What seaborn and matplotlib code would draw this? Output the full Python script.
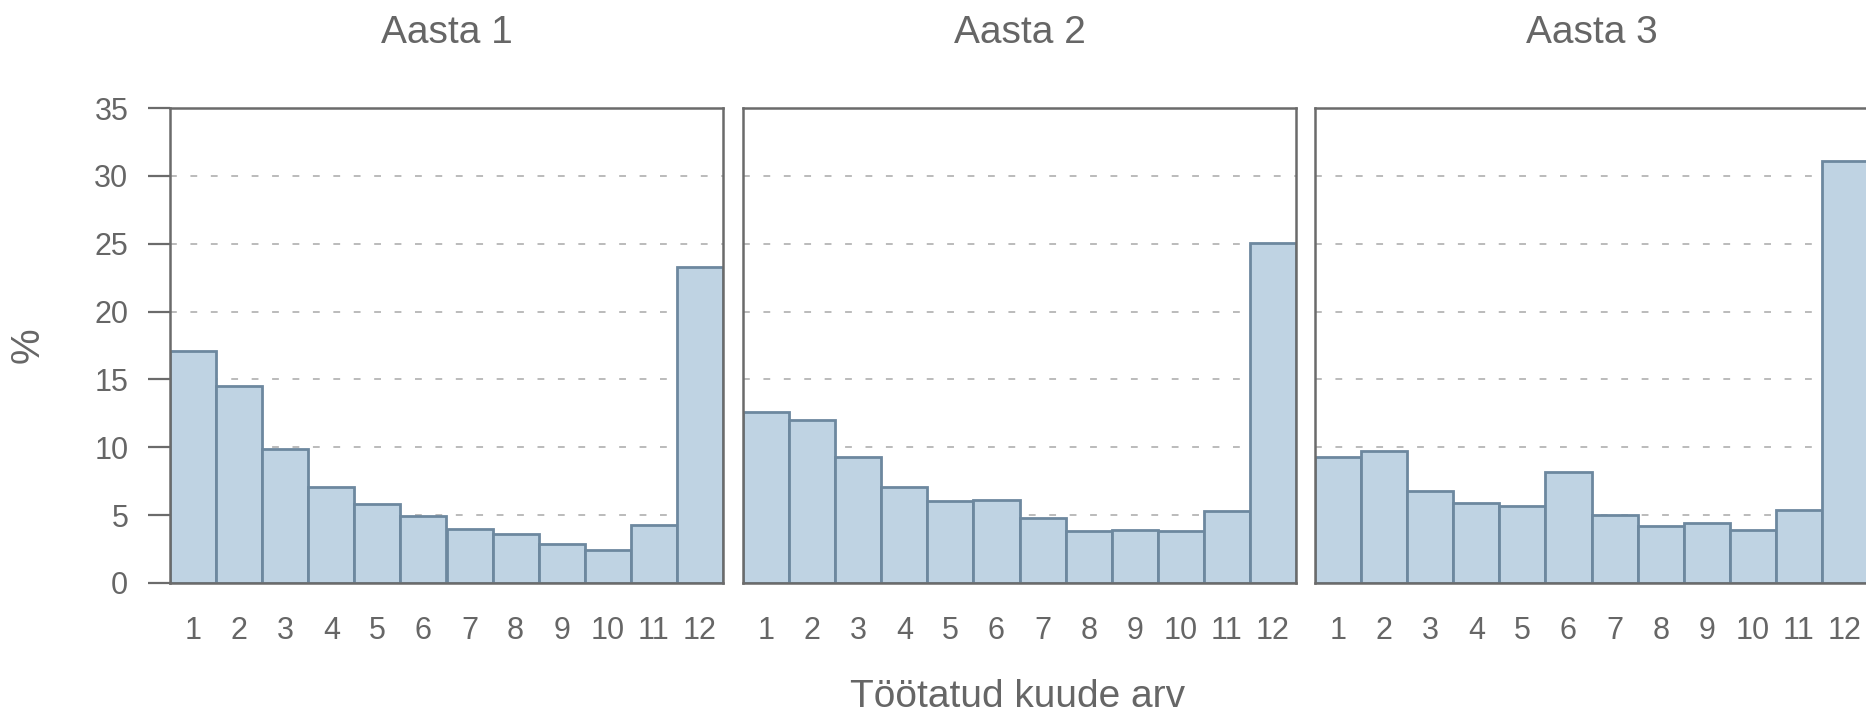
import numpy as np
import pandas as pd
import seaborn as sns
import matplotlib.pyplot as plt

# Andmed - osakaal (%) töötatud kuude arvu järgi
kuud = [str(k) for k in range(1, 13)]
aastad = ["Aasta 1", "Aasta 2", "Aasta 3"]
aasta1 = [17.1, 14.5, 9.85, 7.1, 5.85, 4.95, 3.95, 3.6, 2.9, 2.45, 4.25, 23.25]
aasta2 = [12.6, 12.0, 9.3, 7.05, 6.05, 6.1, 4.8, 3.85, 3.9, 3.85, 5.3, 25.05]
aasta3 = [9.25, 9.75, 6.8, 5.9, 5.65, 8.2, 5.0, 4.2, 4.45, 3.9, 5.4, 31.1]

andmed = pd.DataFrame({
    "Kuud": kuud * 3,
    "Osakaal": aasta1 + aasta2 + aasta3,
    "Aasta": np.repeat(aastad, 12),
})

sns.set_style("ticks")
plt.rcParams['font.family'] = ['Liberation Sans', 'DejaVu Sans']
tekst = '#666666'
joon = '#6b6b6b'

W, H = 1866, 712
fig, axes = plt.subplots(1, 3, figsize=(W / 100, H / 100), dpi=100, sharey=True)

vasak = [170, 743, 1315]
for i, (ax, aasta) in enumerate(zip(axes, aastad)):
    ax.set_position([vasak[i] / W, (H - 583) / H, 553 / W, 475 / H])
    osa = andmed[andmed['Aasta'] == aasta]
    sns.barplot(data=osa, x="Kuud", y="Osakaal", ax=ax, width=1, color='#bfd3e3',
                edgecolor='#6d889f', linewidth=2, saturation=1)
    ax.set_xlim(-0.5, 11.5)
    ax.set_ylim(0, 35)
    ax.set_yticks(range(0, 36, 5))
    ax.set_axisbelow(True)
    ax.yaxis.grid(True, linestyle=(0, (3.5, 7)), color='#bbbbbb', linewidth=1.4)
    for s in ax.spines.values():
        s.set_visible(True)
        s.set_color(joon)
        s.set_linewidth(1.8)
    ax.set_xlabel('')
    ax.set_ylabel('')
    ax.set_title(aasta, fontsize=28, color=tekst, pad=47)
    ax.tick_params(axis='x', length=0, pad=24, labelsize=22, labelcolor=tekst)
    if i == 0:
        ax.tick_params(axis='y', length=16, width=1.6, color=joon, pad=14,
                       labelsize=22, labelcolor=tekst)
    else:
        ax.tick_params(axis='y', length=0, labelleft=False)

fig.text(1018 / W, 5 / H, 'Töötatud kuude arv', ha='center', va='baseline',
         fontsize=28, color=tekst)
fig.text(28 / W, (H - 345) / H, '%', ha='center', va='center', rotation=90,
         fontsize=29, color=tekst)

plt.savefig('out.png', dpi=100)
